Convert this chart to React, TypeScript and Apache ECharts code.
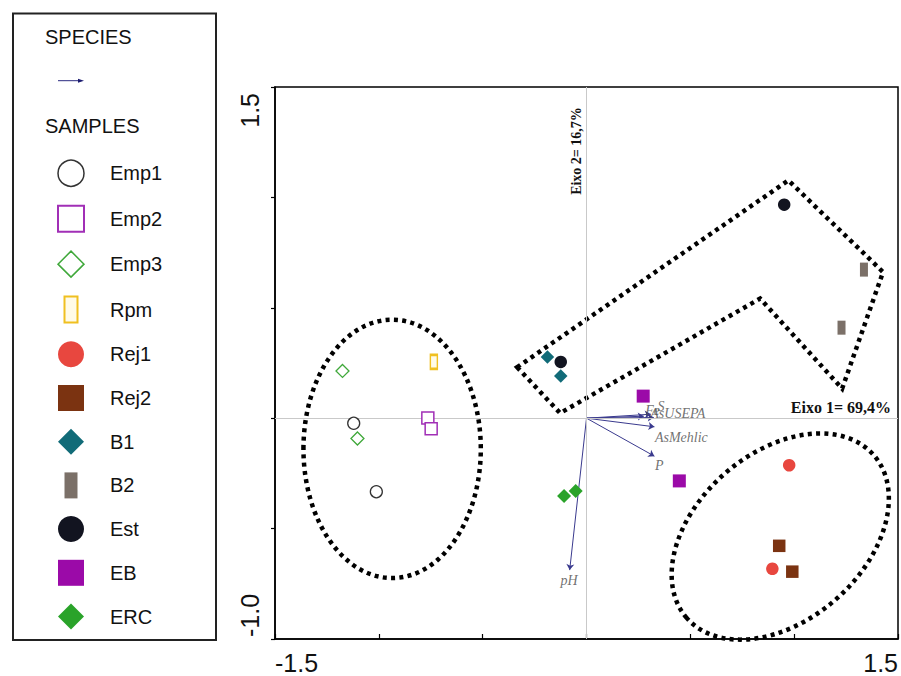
import React, { useEffect, useRef } from 'react';
import * as echarts from 'echarts';

// ---------- DATA ----------
const sampleNames = ['Emp1', 'Emp2', 'Emp3', 'Rpm', 'Rej1', 'Rej2', 'B1', 'B2', 'Est', 'EB', 'ERC'];

const emp1 = [[-1.121, -0.023], [-1.012, -0.333]];
const emp2 = [[-0.764, 0.001], [-0.748, -0.048]];
const emp3 = [[-1.175, 0.214], [-1.103, -0.092]];
const rpm = [[-0.735, 0.255]];
const rej1 = [[0.976, -0.213], [0.895, -0.682]];
const rej2 = [[0.928, -0.578], [0.991, -0.695]];
const b1 = [[-0.188, 0.277], [-0.124, 0.191]];
const b2 = [[1.336, 0.673], [1.228, 0.41]];
const est = [[-0.124, 0.255], [0.952, 0.967]];
const eb = [[0.273, 0.1], [0.447, -0.284]];
const erc = [[-0.108, -0.352], [-0.052, -0.33]];

const sampleValues: Record<string, number[][]> = {
  Emp1: emp1, Emp2: emp2, Emp3: emp3, Rpm: rpm, Rej1: rej1, Rej2: rej2,
  B1: b1, B2: b2, Est: est, EB: eb, ERC: erc,
};

const speciesNames = ['pH', 'P', 'AsMehlic', 'AsUSEPA', 'Fe', 'S'];
const speciesX = [-0.081, 0.327, 0.327, 0.324, 0.276, 0.31];
const speciesY = [-0.688, -0.172, -0.039, 0.003, 0.009, 0.018];

const xTickLabels = ['-1.5', '1.5'];
const yTickLabels = ['-1.0', '1.5'];

// Annotation shapes (data coordinates)
const groupPolygon = [[-0.334, 0.231], [-0.127, 0.023], [0.836, 0.542], [1.231, 0.134], [1.428, 0.662], [0.972, 1.077]];
const leftEllipse = { center: [-0.936, -0.139], rx: 0.427, ry: 0.622, angle: 0 };
const rightEllipse = { center: [0.933, -0.536], rx: 0.597, ry: 0.404, angle: 41 };

// ---------- STYLES ----------
const TALL = 'path://M0 0H10V20H0Z';
const sampleStyle: Record<string, any> = {
  Emp1: { symbol: 'circle', size: 12, fill: '#ffffff', stroke: '#333333', lw: 1.3, icon: 'circle', ilw: 1.5 },
  Emp2: { symbol: 'rect', size: 12, fill: '#ffffff', stroke: '#a12fb6', lw: 1.5, icon: 'rect', ilw: 2 },
  Emp3: { symbol: 'diamond', size: 13, fill: '#ffffff', stroke: '#3fa83a', lw: 1.3, icon: 'diamond', ilw: 1.5 },
  Rpm: { symbol: 'rect', size: [7, 14], fill: '#fffbe8', stroke: '#f0c020', lw: 2, icon: TALL, ilw: 2 },
  Rej1: { symbol: 'circle', size: 12.5, fill: '#e8473f', icon: 'circle' },
  Rej2: { symbol: 'rect', size: 12.5, fill: '#7b3311', icon: 'rect' },
  B1: { symbol: 'diamond', size: 13.5, fill: '#116b78', icon: 'diamond' },
  B2: { symbol: 'rect', size: [8, 14], fill: '#7b7068', icon: TALL },
  Est: { symbol: 'circle', size: 12.5, fill: '#121420', icon: 'circle' },
  EB: { symbol: 'rect', size: 13, fill: '#9b0aa8', icon: 'rect' },
  ERC: { symbol: 'diamond', size: 14, fill: '#2aa32a', icon: 'diamond' },
};

const speciesLabelStyle: Record<string, { pos: number[]; align: string }> = {
  pH: { pos: [0, 11], align: 'center' },
  P: { pos: [1, 10], align: 'left' },
  AsMehlic: { pos: [1, 11], align: 'left' },
  AsUSEPA: { pos: [-3, -4], align: 'left' },
  Fe: { pos: [2, -5], align: 'left' },
  S: { pos: [7, -7], align: 'left' },
};

const SANS = '"Liberation Sans", Arial, sans-serif';
const SERIF = '"Liberation Serif", "Times New Roman", serif';

export default function App() {
  const ref = useRef<HTMLDivElement>(null);

  useEffect(() => {
    if (!ref.current) return;
    const chart = echarts.init(ref.current, undefined, { renderer: 'svg' });

    const dashStyle = { fill: 'none', stroke: '#000000', lineWidth: 4.5, lineDash: [4, 4.3] };

    const sampleSeries = sampleNames.map((n) => {
      const s = sampleStyle[n];
      return {
        type: 'scatter',
        name: n,
        z: 5,
        symbol: s.symbol,
        symbolSize: s.size,
        itemStyle: {
          color: s.fill,
          borderColor: s.stroke || s.fill,
          borderWidth: s.lw || 0,
          opacity: 1,
        },
        data: sampleValues[n],
      };
    });

    const option: any = {
      animation: false,
      backgroundColor: '#ffffff',
      grid: {
        left: 275, right: 1, top: 87, bottom: 37,
        show: true, borderColor: '#000000', borderWidth: 1.5, backgroundColor: 'transparent',
      },
      xAxis: {
        type: 'value', min: -1.5, max: 1.5, interval: 0.5,
        axisLine: { show: true, onZero: false, lineStyle: { color: '#000', width: 1.5 } },
        axisTick: { show: true, inside: true, length: 5, lineStyle: { color: '#000', width: 1.2 } },
        splitLine: { show: false },
        axisLabel: {
          show: true, showMinLabel: true, showMaxLabel: true,
          margin: 11, fontSize: 25, fontFamily: SANS, color: '#111',
          alignMinLabel: 'left', alignMaxLabel: 'right',
          formatter: (v: number) => (v === -1.5 ? xTickLabels[0] : v === 1.5 ? xTickLabels[1] : ''),
        },
      },
      yAxis: {
        type: 'value', min: -1, max: 1.5, interval: 0.5,
        axisLine: { show: true, onZero: false, lineStyle: { color: '#000', width: 1.5 } },
        axisTick: { show: true, inside: false, length: 4, lineStyle: { color: '#000', width: 1.2 } },
        splitLine: { show: false },
        axisLabel: {
          show: true, showMinLabel: true, showMaxLabel: true, rotate: 90,
          margin: 13, fontSize: 25, fontFamily: SANS, color: '#111',
          padding: [0, 6, 0, 2],
          alignMinLabel: 'left', alignMaxLabel: 'right',
          formatter: (v: number) => (v === -1 ? yTickLabels[0] : v === 1.5 ? yTickLabels[1] : ''),
        },
      },
      legend: {
        orient: 'vertical', left: 52, top: 154.5,
        itemWidth: 26, itemHeight: 26, itemGap: 17.7,
        selectedMode: false, symbolKeepAspect: true,
        textStyle: { fontFamily: SANS, fontSize: 20, color: '#111', padding: [0, 0, 0, 21] },
        data: sampleNames.map((n) => {
          const s = sampleStyle[n];
          return {
            name: n,
            icon: s.icon,
            itemStyle: {
              color: s.fill,
              borderColor: s.stroke || s.fill,
              borderWidth: s.ilw || 0,
            },
          };
        }),
      },
      graphic: [
        { type: 'rect', shape: { x: 13, y: 13.5, width: 203, height: 626.5 }, style: { fill: 'none', stroke: '#222', lineWidth: 2 }, z: 10 },
        { type: 'text', x: 45, y: 37, style: { text: 'SPECIES', font: `20px ${SANS}`, fill: '#111', align: 'left', verticalAlign: 'middle' }, z: 10 },
        { type: 'line', shape: { x1: 58, y1: 80.7, x2: 80, y2: 80.7 }, style: { stroke: '#2a2a80', lineWidth: 1 }, z: 10 },
        { type: 'polygon', shape: { points: [[78, 78.7], [84, 80.7], [78, 82.7]] }, style: { fill: '#1c1c70' }, z: 10 },
        { type: 'text', x: 45, y: 125.5, style: { text: 'SAMPLES', font: `20px ${SANS}`, fill: '#111', align: 'left', verticalAlign: 'middle' }, z: 10 },
        { type: 'text', x: 576.5, y: 151, rotation: Math.PI / 2, style: { text: 'Eixo 2= 16,7%', font: `bold 14px ${SERIF}`, fill: '#111', align: 'center', verticalAlign: 'middle' }, z: 10 },
        { type: 'text', x: 891, y: 407.5, style: { text: 'Eixo 1= 69,4%', font: `bold 16px ${SERIF}`, fill: '#111', align: 'right', verticalAlign: 'middle' }, z: 10 },
      ],
      series: [
        {
          type: 'custom',
          name: 'groups',
          silent: true,
          z: 2,
          clip: false,
          data: [[0, 0], [0, 0], [0, 0]],
          renderItem: (params: any, api: any) => {
            const i = params.dataIndex;
            if (i === 0) {
              return { type: 'polygon', shape: { points: groupPolygon.map((p) => api.coord(p)) }, style: dashStyle };
            }
            const e = i === 1 ? leftEllipse : rightEllipse;
            const c = api.coord(e.center);
            const unit = api.size([1, 0])[0];
            return {
              type: 'ellipse',
              x: c[0], y: c[1],
              rotation: (e.angle * Math.PI) / 180,
              shape: { cx: 0, cy: 0, rx: e.rx * unit, ry: e.ry * unit },
              style: dashStyle,
            };
          },
        },
        {
          type: 'lines',
          name: 'species',
          coordinateSystem: 'cartesian2d',
          z: 3,
          silent: true,
          symbol: ['none', 'arrow'],
          symbolSize: 6,
          lineStyle: { color: '#3a3a8e', width: 1, opacity: 1 },
          data: speciesNames.map((n, i) => ({ name: n, coords: [[0, 0], [speciesX[i], speciesY[i]]] })),
        },
        {
          type: 'scatter',
          name: 'speciesLabels',
          z: 4,
          silent: true,
          symbolSize: 1,
          itemStyle: { color: 'transparent' },
          label: {
            show: true,
            formatter: (p: any) => p.name,
            fontFamily: SERIF, fontStyle: 'italic', fontSize: 14, color: '#4d4d4d',
            verticalAlign: 'middle',
          },
          markLine: {
            silent: true, symbol: ['none', 'none'], animation: false,
            label: { show: false },
            lineStyle: { color: '#c9c9c9', width: 1, type: 'solid' },
            data: [{ xAxis: 0 }, { yAxis: 0 }],
          },
          data: speciesNames.map((n, i) => ({
            name: n,
            value: [speciesX[i], speciesY[i]],
            label: { position: speciesLabelStyle[n].pos, align: speciesLabelStyle[n].align },
          })),
        },
        ...sampleSeries,
      ],
    };

    chart.setOption(option);
    return () => chart.dispose();
  }, []);

  return (
    <div
      ref={ref}
      style={{ position: 'absolute', left: 0, top: 0, width: 901, height: 676, background: '#fff' }}
    />
  );
}
